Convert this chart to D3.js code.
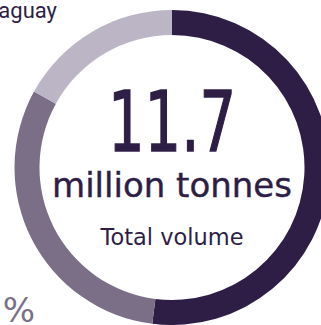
<!DOCTYPE html>
<html>
  <head>
    <meta charset="utf-8">
    <title>Total volume donut</title>
    <style>
      body { margin: 0; background: #fff; }
      svg { display: block; }
      text { font-family: "DejaVu Sans", sans-serif; }
    </style>
  </head>
  <body>
    <div id="chart"></div>
    <script src="https://cdn.jsdelivr.net/npm/d3@7"></script>
    <script>
    // shares of total volume (%)
    var countries = ["Brazil", "Argentina", "Paraguay"];
    var shares = [52, 31, 17];
    var colours = ["#2e1e46", "#7b6f87", "#bcb5c5"];
    var total = "11.7";
    var unit = "million tonnes";
    var caption = "Total volume";

    var w = 321, h = 325;
    var cx = 172, cy = 167.5;
    var outer = 157.5, inner = 132.5;

    var svg = d3.select("#chart").append("svg")
      .attr("width", w)
      .attr("height", h);

    var pie = d3.pie().sort(null).value(function(d){ return d; });
    var arc = d3.arc().innerRadius(inner).outerRadius(outer);

    var g = svg.append("g")
      .attr("transform", "translate(" + cx + "," + cy + ")");

    g.selectAll("path")
      .data(pie(shares))
      .enter()
      .append("path")
      .attr("d", arc)
      .attr("fill", function(d, i){ return colours[i]; });

    // centre texts
    g.append("text")
      .attr("x", 0).attr("y", -17)
      .attr("text-anchor", "middle")
      .attr("font-size", 84)
      .attr("textLength", 128)
      .attr("lengthAdjust", "spacingAndGlyphs")
      .attr("fill", colours[0])
      .attr("stroke", colours[0])
      .attr("stroke-width", 1.5)
      .text(total);

    g.append("text")
      .attr("x", 0).attr("y", 29.5)
      .attr("text-anchor", "middle")
      .attr("font-size", 33)
      .attr("textLength", 240)
      .attr("lengthAdjust", "spacingAndGlyphs")
      .attr("fill", colours[0])
      .attr("stroke", colours[0])
      .attr("stroke-width", 0.4)
      .text(unit);

    g.append("text")
      .attr("x", 0).attr("y", 77.5)
      .attr("text-anchor", "middle")
      .attr("font-size", 23)
      .attr("textLength", 143)
      .attr("lengthAdjust", "spacingAndGlyphs")
      .attr("fill", colours[0])
      .text(caption);

    // outside labels (mostly cropped off in the picture)
    svg.append("text")
      .attr("x", 57).attr("y", 17.5)
      .attr("text-anchor", "end")
      .style("font-family", "Roboto, sans-serif")
      .attr("font-size", 22)
      .attr("fill", colours[0])
      .text(countries[2]);

    svg.append("text")
      .attr("x", 35).attr("y", 322)
      .attr("text-anchor", "end")
      .attr("font-size", 34)
      .attr("fill", colours[1])
      .text(shares[1] + "%");
    </script>
  </body>
</html>
